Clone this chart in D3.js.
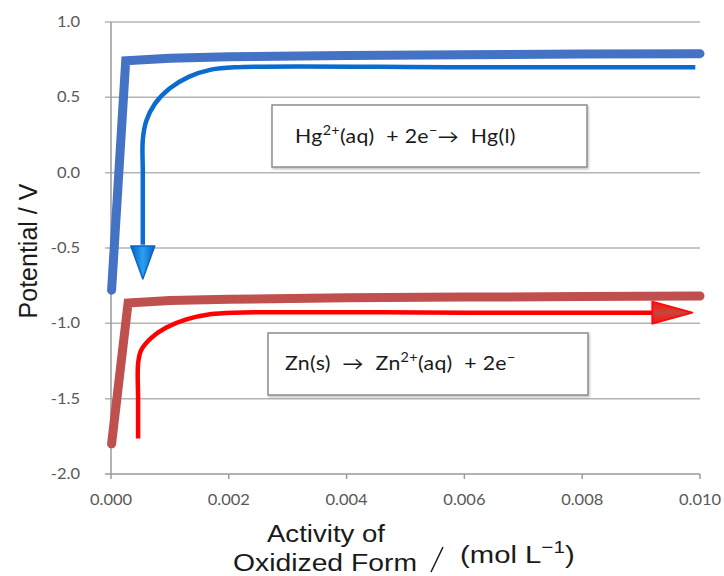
<!DOCTYPE html>
<html>
<head>
<meta charset="utf-8">
<script src="https://cdn.jsdelivr.net/npm/d3@7"></script>
<style>
  html, body { margin: 0; padding: 0; background: #fff; }
  svg { display: block; }
</style>
</head>
<body>
<svg id="chart" width="724" height="576"></svg>
<script>
// ---- data ----
const xTicks = [0, 0.002, 0.004, 0.006, 0.008, 0.010];
const yTicks = [-2.0, -1.5, -1.0, -0.5, 0.0, 0.5, 1.0];

// Hg2+/Hg potential vs activity (thick blue)
const hgX = [0.00001, 0.00025, 0.001, 0.002, 0.004, 0.006, 0.008, 0.010];
const hgY = [-0.78, 0.743, 0.760, 0.769, 0.778, 0.783, 0.787, 0.790];

// Zn2+/Zn potential vs activity (thick red)
const znX = [0.00001, 0.00029, 0.001, 0.002, 0.004, 0.006, 0.008, 0.010];
const znY = [-1.80, -0.865, -0.848, -0.840, -0.831, -0.826, -0.822, -0.819];

// annotation arrow (blue, downward)
const hgArrowX = [0.00992, 0.0060, 0.0021, 0.0017, 0.00132, 0.0010, 0.00075, 0.0006, 0.00054, 0.00054, 0.00054];
const hgArrowY = [0.700, 0.700, 0.700, 0.684, 0.636, 0.560, 0.460, 0.344, 0.219, 0.000, -0.478];
const hgArrowTip = [0.00054, -0.705];

// annotation arrow (red, rightward)
const znArrowX = [0.00046, 0.00046, 0.00046, 0.00051, 0.00068, 0.00094, 0.00128, 0.00168, 0.0021, 0.0060, 0.0092];
const znArrowY = [-1.765, -1.500, -1.268, -1.180, -1.098, -1.028, -0.974, -0.940, -0.929, -0.929, -0.929];
const znArrowTip = [0.00987, -0.929];

// ---- layout ----
const svg = d3.select("#chart");
const x = d3.scaleLinear().domain([0, 0.010]).range([111, 700]);
const y = d3.scaleLinear().domain([-2.0, 1.0]).range([474, 22]);
const SX = 1.15; // horizontal stretch of all text in the reference

const defs = svg.append("defs");
const gb = defs.append("linearGradient").attr("id", "gBlue").attr("x1", "0").attr("x2", "1").attr("y1", "0").attr("y2", "0");
gb.append("stop").attr("offset", "0").attr("stop-color", "#0a5fc4");
gb.append("stop").attr("offset", "0.5").attr("stop-color", "#2aa0f0");
gb.append("stop").attr("offset", "1").attr("stop-color", "#0a5fc4");
const gr = defs.append("linearGradient").attr("id", "gRed").attr("x1", "0").attr("x2", "0").attr("y1", "0").attr("y2", "1");
gr.append("stop").attr("offset", "0").attr("stop-color", "#ff1010");
gr.append("stop").attr("offset", "0.5").attr("stop-color", "#c8463c");
gr.append("stop").attr("offset", "1").attr("stop-color", "#ff1010");
const sh = defs.append("filter").attr("id", "shadow").attr("x", "-5%").attr("y", "-5%").attr("width", "115%").attr("height", "125%");
sh.append("feDropShadow").attr("dx", 1).attr("dy", 1.5).attr("stdDeviation", 1.2).attr("flood-color", "#000").attr("flood-opacity", 0.25);

function stext(px, py, sx) {
  return svg.append("text").attr("transform", `translate(${px},${py}) scale(${sx},1)`);
}

// gridlines
svg.append("g").selectAll("line").data(yTicks).join("line")
  .attr("x1", x(0) - 6).attr("x2", x(0.010))
  .attr("y1", d => y(d)).attr("y2", d => y(d))
  .attr("stroke", d => d === -2.0 ? "#9a9a9a" : "#b4b4b4")
  .attr("stroke-width", 1.5);

// y axis line
svg.append("line").attr("x1", x(0)).attr("x2", x(0)).attr("y1", y(1.0)).attr("y2", y(-2.0))
  .attr("stroke", "#9a9a9a").attr("stroke-width", 1.5);

// x axis ticks
svg.append("g").selectAll("line").data(xTicks).join("line")
  .attr("x1", d => x(d)).attr("x2", d => x(d))
  .attr("y1", y(-2.0)).attr("y2", y(-2.0) + 5)
  .attr("stroke", "#9a9a9a").attr("stroke-width", 1.5);

// tick labels
const tickFont = "Lato, 'Open Sans', sans-serif";
svg.append("g").selectAll("text").data(yTicks).join("text")
  .attr("transform", d => `translate(80,${y(d) + 5}) scale(1.1,1)`)
  .attr("text-anchor", "end")
  .attr("font-family", tickFont).attr("font-size", 15).attr("fill", "#595959")
  .text(d => d3.format(".1f")(d).replace("−", "-"));
svg.append("g").selectAll("text").data(xTicks).join("text")
  .attr("transform", d => `translate(${x(d)},505) scale(1.1,1)`)
  .attr("text-anchor", "middle")
  .attr("font-family", tickFont).attr("font-size", 15).attr("fill", "#595959")
  .text(d => d3.format(".3f")(d));

// thick curves
const line = d3.line().x(d => x(d[0])).y(d => y(d[1]));
svg.append("path").attr("d", line(d3.zip(hgX, hgY)))
  .attr("fill", "none").attr("stroke", "#4472c4").attr("stroke-width", 9)
  .attr("stroke-linecap", "round").attr("stroke-linejoin", "miter");
svg.append("path").attr("d", line(d3.zip(znX, znY)))
  .attr("fill", "none").attr("stroke", "#c0504d").attr("stroke-width", 9)
  .attr("stroke-linecap", "round").attr("stroke-linejoin", "miter");

// annotation arrows
const smooth = d3.line().x(d => x(d[0])).y(d => y(d[1])).curve(d3.curveCatmullRom.alpha(0.5));
svg.append("path").attr("d", smooth(d3.zip(hgArrowX, hgArrowY)))
  .attr("fill", "none").attr("stroke", "#0a6ccc").attr("stroke-width", 4.5);
svg.append("path").attr("d", smooth(d3.zip(znArrowX, znArrowY)))
  .attr("fill", "none").attr("stroke", "#ff0000").attr("stroke-width", 4.5);

// arrowheads
{
  const tx = x(hgArrowTip[0]), ty = y(hgArrowTip[1]);
  svg.append("path")
    .attr("d", `M${tx},${ty} L${tx - 12},${ty - 33} L${tx + 12},${ty - 33} Z`)
    .attr("fill", "url(#gBlue)").attr("stroke", "#0a64c8").attr("stroke-width", 1.5).attr("stroke-linejoin", "round");
}
{
  const tx = x(znArrowTip[0]), ty = y(znArrowTip[1]);
  svg.append("path")
    .attr("d", `M${tx},${ty} L${tx - 40},${ty - 11} L${tx - 40},${ty + 11} Z`)
    .attr("fill", "url(#gRed)").attr("stroke", "#ff0a0a").attr("stroke-width", 2).attr("stroke-linejoin", "round");
}

// equation boxes
const boxFont = "Lato, 'Open Sans', sans-serif";
function eqBox(x0, y0, w, h, tx, ty, parts) {
  svg.append("rect").attr("x", x0).attr("y", y0).attr("width", w).attr("height", h)
    .attr("fill", "#fff").attr("stroke", "#8c8c8c").attr("stroke-width", 1.5)
    .attr("filter", "url(#shadow)");
  const t = stext(tx, ty, SX)
    .attr("font-family", boxFont).attr("font-size", 18.5).attr("fill", "#1a1a1a")
    .attr("letter-spacing", 0.3)
    .attr("xml:space", "preserve").style("white-space", "pre");
  parts.forEach(p => {
    const s = t.append("tspan").text(p.t);
    if (p.sup) s.attr("dy", -8).attr("font-size", 12.5);
    if (p.down) s.attr("dy", 8);
  });
}
eqBox(272, 105, 315, 62, 295, 143, [
  {t: "Hg"}, {t: "2+", sup: true}, {t: "(aq)  + 2e", down: true}, {t: "−", sup: true}, {t: "→  Hg(l)", down: true}
]);
eqBox(268, 333, 320, 62, 285, 370, [
  {t: "Zn(s)  →  Zn"}, {t: "2+", sup: true}, {t: "(aq)  + 2e", down: true}, {t: "−", sup: true}
]);

// axis titles
const titleFont = "'Liberation Sans', Arial, sans-serif";
svg.append("text").attr("transform", "translate(37,251) rotate(-90)")
  .attr("text-anchor", "middle").attr("font-family", titleFont).attr("font-size", 25).attr("fill", "#1a1a1a")
  .text("Potential / V");
stext(326, 542, 1.15).attr("text-anchor", "middle")
  .attr("font-family", titleFont).attr("font-size", 24).attr("fill", "#1a1a1a").text("Activity of");
stext(325, 571, 1.18).attr("text-anchor", "middle")
  .attr("font-family", titleFont).attr("font-size", 24).attr("fill", "#1a1a1a").text("Oxidized Form");
svg.append("line").attr("x1", 443).attr("y1", 547).attr("x2", 431).attr("y2", 572)
  .attr("stroke", "#1a1a1a").attr("stroke-width", 1.5);
{
  const t = stext(460, 563, 1.22)
    .attr("font-family", titleFont).attr("font-size", 24).attr("fill", "#1a1a1a");
  t.append("tspan").text("(mol L");
  t.append("tspan").attr("dy", -10).attr("font-size", 17).text("−1");
  t.append("tspan").attr("dy", 10).text(")");
}
</script>
</body>
</html>
